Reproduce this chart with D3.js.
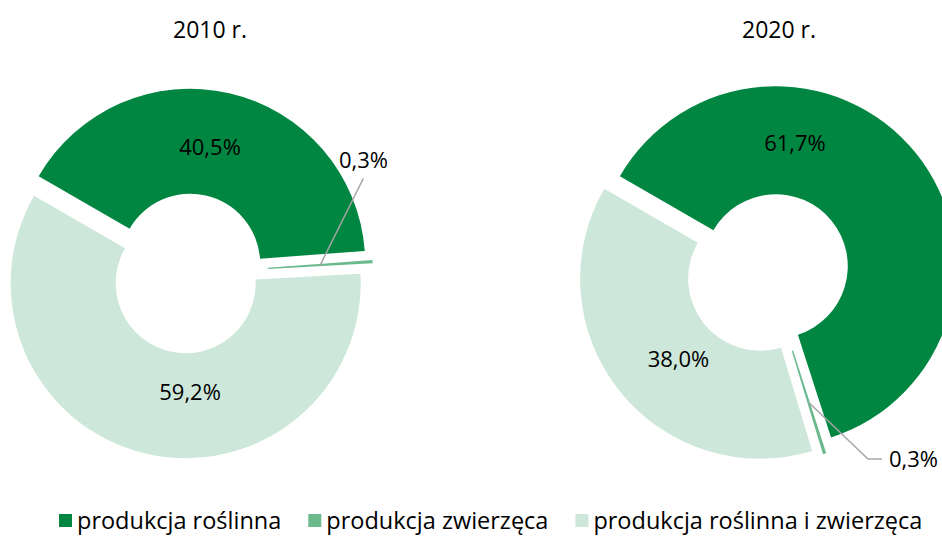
<!DOCTYPE html>
<html>
<head>
<meta charset="utf-8">
<script src="https://cdn.jsdelivr.net/npm/d3@7"></script>
<style>
  body { margin: 0; background: #fff; }
  text { font-family: "Open Sans", "Noto Sans", sans-serif; fill: #000; }
</style>
</head>
<body>
<svg id="chart" width="942" height="536"></svg>
<script>
// data
var categories = ["produkcja roślinna", "produkcja zwierzęca", "produkcja roślinna i zwierzęca"];
var years = ["2010 r.", "2020 r."];
var values2010 = [40.5, 0.3, 59.2];
var values2020 = [61.7, 0.3, 38.0];
var colors = ["#008641", "#6bba8d", "#cde7da"];

var W = 942, H = 536,
    explode = 10,                       // slice offset along its mid angle
    labelSize = 22, titleSize = 23, legendSize = 23.5;

// layout of the two rings (label spots are [angle deg, radius] from ring centre)
var rings = [
    {title: years[0], values: values2010, cx: 188, cy: 273.5, R: 175, r: 70, tx: 210,
     labelAt: [[9.9, 128], null, [179, 119]],
     small: {text: [175.5, -113.5], line: [[175.3, -95]]}},
    {title: years[1], values: values2020, cx: 768, cy: 272.5, R: 180, r: 72, tx: 779,
     labelAt: [[11.8, 132], null, [226, 124.5]],
     small: {text: [121, 187], line: [[100, 186.5], [114, 186.5]], anchor: "start"}}
];

var fmt = v => d3.format(".1f")(v).replace(".", ",") + "%";
var rad = deg => deg * Math.PI / 180;

var svg = d3.select("#chart");

var pie = d3.pie()
    .sort(null)
    .value(d => d)
    .startAngle(rad(-60))
    .endAngle(rad(300));

rings.forEach(function(ring) {
    var g = svg.append("g")
        .attr("transform", "translate(" + ring.cx + "," + ring.cy + ")");

    var arc = d3.arc().innerRadius(ring.r).outerRadius(ring.R);
    var arcs = pie(ring.values);

    // slices, each pushed out a bit
    g.selectAll("path.slice")
        .data(arcs)
        .enter()
        .append("path")
        .attr("class", "slice")
        .attr("d", arc)
        .attr("fill", (d, i) => colors[i])
        .attr("transform", function(d) {
            var p = d3.pointRadial((d.startAngle + d.endAngle) / 2, explode);
            return "translate(" + p[0] + "," + p[1] + ")";
        });

    // labels inside the big slices
    arcs.forEach(function(d, i) {
        var at = ring.labelAt[i];
        if (!at) return;
        var p = d3.pointRadial(rad(at[0]), at[1]);
        g.append("text")
            .attr("x", p[0])
            .attr("y", p[1])
            .attr("dy", "0.36em")
            .attr("text-anchor", "middle")
            .style("font-size", labelSize + "px")
            .text(fmt(d.data));
    });

    // small slice: leader line + label
    var s = arcs[1];
    var mid = (s.startAngle + s.endAngle) / 2;
    var c = d3.pointRadial(mid, (ring.r + ring.R) / 2 + explode);
    g.append("path")
        .attr("d", d3.line()([c].concat(ring.small.line)))
        .attr("fill", "none")
        .attr("stroke", "#a6a6a6")
        .attr("stroke-width", 1.5);
    g.append("text")
        .attr("x", ring.small.text[0])
        .attr("y", ring.small.text[1])
        .attr("dy", "0.36em")
        .attr("text-anchor", ring.small.anchor || "middle")
        .style("font-size", labelSize + "px")
        .text(fmt(s.data));

    // year title
    svg.append("text")
        .attr("x", ring.tx)
        .attr("y", 38)
        .attr("text-anchor", "middle")
        .style("font-size", titleSize + "px")
        .text(ring.title);
});

// legend
var lx = 59;
var legend = svg.append("g").attr("transform", "translate(0,520.5)");
categories.forEach(function(name, i) {
    legend.append("rect")
        .attr("x", lx)
        .attr("y", -6.5)
        .attr("width", 13)
        .attr("height", 13)
        .attr("fill", colors[i]);
    var t = legend.append("text")
        .attr("x", lx + 18)
        .attr("y", 0)
        .attr("dy", "0.36em")
        .style("font-size", legendSize + "px")
        .text(name);
    lx += 18 + t.node().getComputedTextLength() + 27;
});
</script>
</body>
</html>
